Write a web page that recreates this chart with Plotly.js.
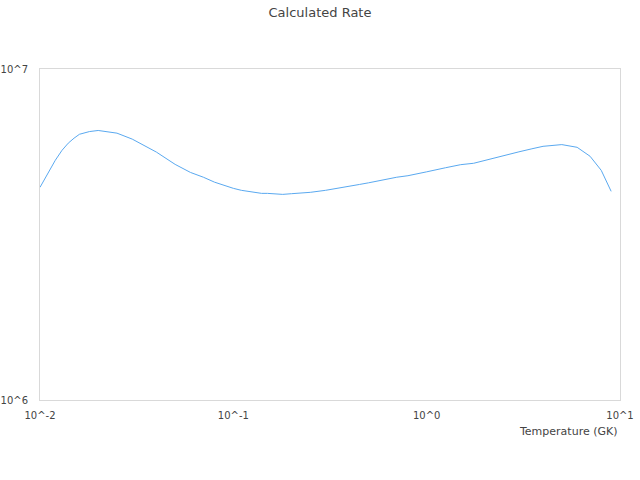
<!DOCTYPE html>
<html>
<head>
<meta charset="utf-8">
<script src="https://cdn.plot.ly/plotly-3.0.1.min.js"></script>
<style>
  html, body { margin: 0; padding: 0; background: #fff; }
  #chart { width: 640px; height: 480px; }
</style>
</head>
<body>
<div id="chart"></div>
<script>
// Temperature grid (GK)
var temperature = [0.01, 0.011, 0.012, 0.013, 0.014, 0.015, 0.016, 0.018, 0.02, 0.025,
  0.03, 0.04, 0.05, 0.06, 0.07, 0.08, 0.09, 0.1, 0.11, 0.12,
  0.13, 0.14, 0.15, 0.16, 0.18, 0.2, 0.25, 0.3, 0.35, 0.4,
  0.45, 0.5, 0.6, 0.7, 0.8, 0.9, 1, 1.25, 1.5, 1.75,
  2, 2.5, 3, 3.5, 4, 5, 6, 7, 8, 9];

// Calculated rate
var rate = [4.39e6, 4.84e6, 5.30e6, 5.68e6, 5.97e6, 6.18e6, 6.35e6, 6.47e6, 6.52e6, 6.40e6,
  6.14e6, 5.61e6, 5.15e6, 4.87e6, 4.71e6, 4.55e6, 4.44e6, 4.36e6, 4.30e6, 4.27e6,
  4.23e6, 4.21e6, 4.21e6, 4.20e6, 4.18e6, 4.20e6, 4.24e6, 4.30e6, 4.36e6, 4.42e6,
  4.48e6, 4.53e6, 4.63e6, 4.71e6, 4.76e6, 4.82e6, 4.89e6, 5.03e6, 5.14e6, 5.19e6,
  5.30e6, 5.49e6, 5.62e6, 5.74e6, 5.84e6, 5.91e6, 5.80e6, 5.45e6, 4.94e6, 4.27e6];

var xTickVals = [0.01, 0.1, 1, 10];
var xTickText = ["10^-2", "10^-1", "10^0", "10^1"];
var yTickVals = [1e6, 1e7];
var yTickText = ["10^6", "10^7"];

var trace = {
  type: "scatter",
  mode: "lines",
  x: temperature,
  y: rate,
  line: { color: "#5aa9f0", width: 1 },
  hoverinfo: "x+y"
};

// shared look for both axes: thin grey box, no grid, invisible ticks as spacers
var axisStyle = {
  type: "log",
  showgrid: false,
  zeroline: false,
  showline: true,
  mirror: true,
  linecolor: "#d9d9d9",
  linewidth: 1,
  ticks: "outside",
  tickcolor: "rgba(0,0,0,0)",
  tickfont: { family: "DejaVu Sans", size: 10, color: "#444" }
};

var layout = {
  width: 640,
  height: 480,
  margin: { l: 40, r: 20, t: 69, b: 80 },
  paper_bgcolor: "#fff",
  plot_bgcolor: "#fff",
  font: { family: "DejaVu Sans, sans-serif", color: "#444" },
  title: { text: "Calculated Rate", x: 0.5, xanchor: "center", y: 0.975, yanchor: "middle",
    font: { family: "DejaVu Sans", size: 13, color: "#444" } },
  showlegend: false,
  xaxis: Object.assign({}, axisStyle, {
    range: [-2, 1],
    tickvals: xTickVals,
    ticktext: xTickText,
    ticklen: 6
  }),
  yaxis: Object.assign({}, axisStyle, {
    range: [6, 7],
    tickvals: yTickVals,
    ticktext: yTickText,
    ticklen: 9
  }),
  annotations: [{
    text: "Temperature (GK)",
    xref: "paper", yref: "paper",
    x: 1, y: -0.094,
    xanchor: "right", yanchor: "middle",
    showarrow: false,
    font: { family: "DejaVu Sans", size: 11, color: "#444" }
  }]
};

Plotly.newPlot("chart", [trace], layout, { displayModeBar: false });
</script>
</body>
</html>
